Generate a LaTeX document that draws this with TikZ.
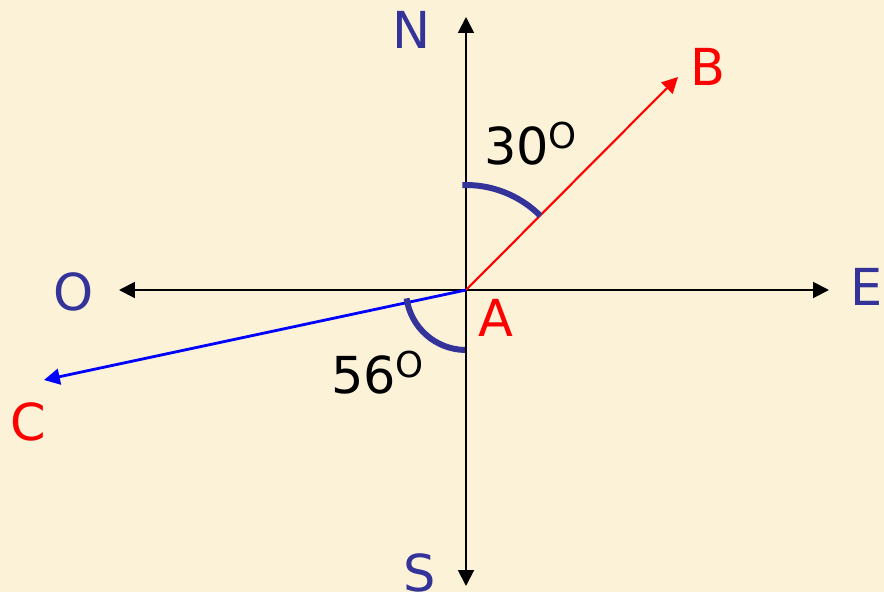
\documentclass[tikz,border=0pt]{standalone}
\usepackage{fontspec}
\setmainfont{DejaVu Sans}
\usetikzlibrary{arrows.meta}

\definecolor{paper}{RGB}{251,242,216}
\definecolor{compass}{RGB}{51,51,153}

\begin{document}
\begin{tikzpicture}[x=0.02cm,y=0.02cm,
    axis/.style={line width=1.1pt,{Triangle[length=9pt,width=9pt]}-{Triangle[length=9pt,width=9pt]}},
    vec/.style={-{Triangle[length=9pt,width=9pt]}},
    angarc/.style={compass,line width=3.4pt},
    dirlabel/.style={compass,font=\fontsize{29}{34}\selectfont},
    ptlabel/.style={red,font=\fontsize{29}{34}\selectfont},
    anglabel/.style={black,font=\fontsize{29}{34}\selectfont}]
    \fill[paper] (-466,-302) rectangle (418,290);
    \useasboundingbox (-466,-302) rectangle (418,290);
    % compass axes
    \coordinate (A) at (0,0);
    \coordinate (tipN) at (0,273);
    \coordinate (tipS) at (0,-296);
    \coordinate (tipE) at (363,0);
    \coordinate (tipO) at (-347,0);
    \draw[axis] (tipS) -- (tipN);
    \draw[axis] (tipO) -- (tipE);
    \node[dirlabel] (labN) at (-54,260) {N};
    \node[dirlabel] (labS) at (-46,-283) {S};
    \node[dirlabel] (labE) at (401,3) {E};
    \node[dirlabel] (labO) at (-392,-2) {O};
    % vectors
    \coordinate (tipB) at (212,213);
    \coordinate (tipC) at (-422,-90);
    \draw[vec,red,line width=1.2pt] (A) -- (tipB);
    \draw[vec,blue,line width=1.6pt] (A) -- (tipC);
    \node[ptlabel] (labA) at (30,-28) {A};
    \node[ptlabel] (labB) at (242,223) {B};
    \node[ptlabel] (labC) at (-438,-132) {C};
    % angles
    \draw[angarc] (A) ++(92:2.1cm) arc (92:45:2.1cm);
    \draw[angarc] (A) ++(188:1.2cm) arc (188:269:1.2cm);
    \node[anglabel] (ang30) at (65,146) {30\textsuperscript{O}};
    \node[anglabel] (ang56) at (-88,-83) {56\textsuperscript{O}};
\end{tikzpicture}
\end{document}
